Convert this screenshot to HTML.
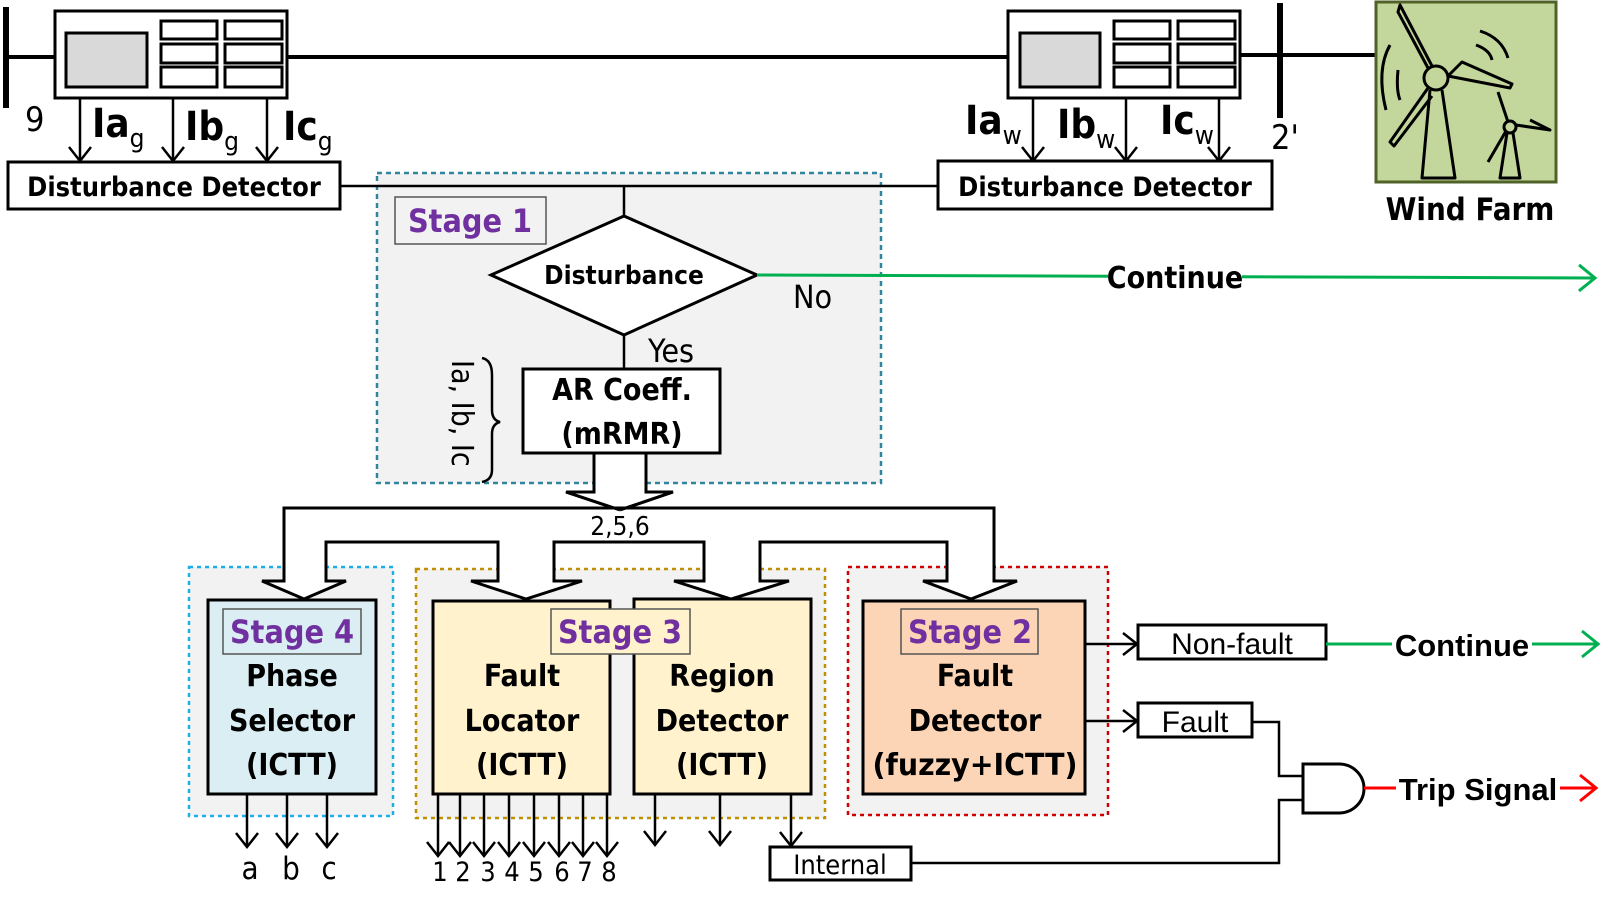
<!DOCTYPE html>
<html><head><meta charset="utf-8"><style>
html,body{margin:0;padding:0;background:#fff}
svg{display:block}
text{font-family:"Liberation Sans Narrow","DejaVu Sans Condensed","Liberation Sans",sans-serif}
.w{font-family:"Liberation Sans",sans-serif}
</style></head><body>
<svg width="1602" height="909" viewBox="0 0 1602 909" xmlns="http://www.w3.org/2000/svg">
<defs>
<marker id="ab" markerWidth="24" markerHeight="26" refX="17" refY="13" orient="auto" markerUnits="userSpaceOnUse"><path d="M3,2 L17,13 L3,24" fill="none" stroke="#000" stroke-width="2.5"/></marker>
<marker id="ag" markerWidth="24" markerHeight="30" refX="19" refY="15" orient="auto" markerUnits="userSpaceOnUse"><path d="M3,2 L19,15 L3,28" fill="none" stroke="#00B050" stroke-width="3"/></marker>
<marker id="ar" markerWidth="24" markerHeight="30" refX="19" refY="15" orient="auto" markerUnits="userSpaceOnUse"><path d="M3,2 L19,15 L3,28" fill="none" stroke="#FF0000" stroke-width="3"/></marker>
</defs>

<line x1="6" y1="57" x2="1008" y2="57" stroke="#000" stroke-width="4"/>
<line x1="1240" y1="55" x2="1376" y2="55" stroke="#000" stroke-width="4"/>
<line x1="6" y1="7" x2="6" y2="108" stroke="#000" stroke-width="6"/>
<line x1="1280" y1="3" x2="1280" y2="118" stroke="#000" stroke-width="6"/>

<rect x="55" y="11" width="232" height="87" fill="#fff" stroke="#000" stroke-width="3"/>
<rect x="66" y="33" width="81" height="54" fill="#D9D9D9" stroke="#000" stroke-width="3"/>
<g fill="#fff" stroke="#000" stroke-width="3">
<rect x="161" y="21" width="56" height="18"/><rect x="225" y="21" width="57" height="18"/>
<rect x="161" y="44" width="56" height="19"/><rect x="225" y="44" width="57" height="19"/>
<rect x="161" y="67" width="56" height="20"/><rect x="225" y="67" width="57" height="20"/>
</g>
<rect x="1008" y="11" width="232" height="87" fill="#fff" stroke="#000" stroke-width="3"/>
<rect x="1020" y="33" width="80" height="54" fill="#D9D9D9" stroke="#000" stroke-width="3"/>
<g fill="#fff" stroke="#000" stroke-width="3">
<rect x="1114" y="21" width="56" height="18"/><rect x="1178" y="21" width="57" height="18"/>
<rect x="1114" y="44" width="56" height="19"/><rect x="1178" y="44" width="57" height="19"/>
<rect x="1114" y="67" width="56" height="20"/><rect x="1178" y="67" width="57" height="20"/>
</g>

<g stroke="#000" stroke-width="2.5" marker-end="url(#ab)">
<line x1="80" y1="98" x2="80" y2="161"/><line x1="173" y1="98" x2="173" y2="161"/><line x1="267" y1="98" x2="267" y2="161"/>
<line x1="1033" y1="98" x2="1033" y2="161"/><line x1="1126" y1="98" x2="1126" y2="161"/><line x1="1219" y1="98" x2="1219" y2="161"/>
</g>
<text x="25" y="131" font-size="34">9</text>
<text x="1271" y="149" font-size="34">2'</text>
<g font-weight="bold" font-size="40">
<text x="92" y="137">Ia<tspan font-size="26" font-weight="normal" dy="10">g</tspan></text>
<text x="185" y="140">Ib<tspan font-size="26" font-weight="normal" dy="10">g</tspan></text>
<text x="283" y="140">Ic<tspan font-size="26" font-weight="normal" dy="10">g</tspan></text>
<text x="965" y="134">Ia<tspan font-size="26" font-weight="normal" dy="10">w</tspan></text>
<text x="1057" y="138">Ib<tspan font-size="26" font-weight="normal" dy="10">w</tspan></text>
<text x="1160" y="134">Ic<tspan font-size="26" font-weight="normal" dy="10">w</tspan></text>
</g>

<rect x="377" y="173" width="504" height="310" fill="#F2F2F2" stroke="#31849B" stroke-width="2.5" stroke-dasharray="5,4"/>
<line x1="340" y1="186" x2="938" y2="186" stroke="#000" stroke-width="2.5"/>
<line x1="624" y1="186" x2="624" y2="216" stroke="#000" stroke-width="2.5"/>

<rect x="8" y="162" width="332" height="47" fill="#fff" stroke="#000" stroke-width="3"/>
<text x="174" y="196" font-size="27" font-weight="bold" text-anchor="middle">Disturbance Detector</text>
<rect x="938" y="161" width="334" height="48" fill="#fff" stroke="#000" stroke-width="3"/>
<text x="1105" y="196" font-size="27" font-weight="bold" text-anchor="middle">Disturbance Detector</text>

<rect x="395" y="197" width="151" height="47" fill="#F2F2F2" stroke="#555" stroke-width="1.5"/>
<text x="470" y="232" font-size="32" font-weight="bold" fill="#7030A0" text-anchor="middle">Stage 1</text>

<polygon points="624,216 757,275 624,335 491,275" fill="#fff" stroke="#000" stroke-width="3"/>
<text x="624" y="284" font-size="26" font-weight="bold" text-anchor="middle">Disturbance</text>
<line x1="757" y1="275" x2="1595" y2="278" stroke="#00B050" stroke-width="3" marker-end="url(#ag)"/>
<rect x="1108" y="258" width="134" height="36" fill="#fff"/>
<text x="1175" y="288" font-size="30" font-weight="bold" text-anchor="middle">Continue</text>
<text x="793" y="308" font-size="32">No</text>
<line x1="624" y1="335" x2="624" y2="369" stroke="#000" stroke-width="2.5"/>
<text x="648" y="362" font-size="32">Yes</text>

<rect x="523" y="369" width="197" height="84" fill="#fff" stroke="#000" stroke-width="3"/>
<text x="622" y="400" font-size="30" font-weight="bold" text-anchor="middle">AR Coeff.</text>
<text x="622" y="444" font-size="30" font-weight="bold" text-anchor="middle">(mRMR)</text>
<path d="M482,358 Q492,360 492,375 L492,410 Q492,420 500,422 Q492,424 492,434 L492,470 Q492,480 482,482" fill="none" stroke="#000" stroke-width="2.5"/>
<text transform="translate(452,360) rotate(90)" font-size="30">Ia, Ib, Ic</text>

<rect x="189" y="567" width="204" height="249" fill="#F2F2F2" stroke="#1CB0E8" stroke-width="2.5" stroke-dasharray="4,4"/>
<rect x="416" y="569" width="409" height="249" fill="#F2F2F2" stroke="#C09000" stroke-width="2.5" stroke-dasharray="4,4"/>
<rect x="848" y="567" width="260" height="248" fill="#F2F2F2" stroke="#D00000" stroke-width="2.5" stroke-dasharray="4,4"/>

<polygon points="594,453 594,492 566,492 620,510 673,492 646,492 646,453" fill="#fff" stroke="#000" stroke-width="3"/>
<path d="M284,581 L284,508 L994,508 L994,581 L1017,581 L971,599 L923,581 L947,581 L947,542 L760,542 L760,581 L789,581 L731,599 L674,581 L704,581 L704,542 L554,542 L554,581 L582,581 L526,599 L471,581 L498,581 L498,542 L326,542 L326,581 L346,581 L304,599 L262,581 Z" fill="#fff" stroke="#000" stroke-width="3"/>
<polygon points="596,495 644,495 620,505" fill="#fff"/>
<line x1="566" y1="492" x2="620" y2="510" stroke="#000" stroke-width="3"/>
<line x1="673" y1="492" x2="620" y2="510" stroke="#000" stroke-width="3"/>
<text x="620" y="535" font-size="26" text-anchor="middle">2,5,6</text>

<rect x="208" y="600" width="168" height="194" fill="#DAEEF3" stroke="#000" stroke-width="3"/>
<rect x="223" y="609" width="138" height="45" fill="#DAEEF3" stroke="#555" stroke-width="1.5"/>
<text x="292" y="643" font-size="32" font-weight="bold" fill="#7030A0" text-anchor="middle">Stage 4</text>
<g font-size="30" font-weight="bold" text-anchor="middle">
<text x="292" y="686">Phase</text><text x="292" y="731">Selector</text><text x="292" y="775">(ICTT)</text>
</g>
<rect x="433" y="601" width="177" height="193" fill="#FFF2CC" stroke="#000" stroke-width="3"/>
<rect x="634" y="599" width="177" height="195" fill="#FFF2CC" stroke="#000" stroke-width="3"/>
<rect x="551" y="609" width="139" height="45" fill="#FFF2CC" stroke="#555" stroke-width="1.5"/>
<text x="620" y="643" font-size="32" font-weight="bold" fill="#7030A0" text-anchor="middle">Stage 3</text>
<g font-size="30" font-weight="bold" text-anchor="middle">
<text x="522" y="686">Fault</text><text x="522" y="731">Locator</text><text x="522" y="775">(ICTT)</text>
<text x="722" y="686">Region</text><text x="722" y="731">Detector</text><text x="722" y="775">(ICTT)</text>
</g>
<rect x="863" y="601" width="222" height="193" fill="#FBD5B5" stroke="#000" stroke-width="3"/>
<rect x="901" y="609" width="137" height="45" fill="#FBD5B5" stroke="#555" stroke-width="1.5"/>
<text x="970" y="643" font-size="32" font-weight="bold" fill="#7030A0" text-anchor="middle">Stage 2</text>
<g font-size="30" font-weight="bold" text-anchor="middle">
<text x="975" y="686">Fault</text><text x="975" y="731">Detector</text><text x="975" y="775" textLength="205" lengthAdjust="spacingAndGlyphs">(fuzzy+ICTT)</text>
</g>

<g stroke="#000" stroke-width="2.5" marker-end="url(#ab)">
<line x1="247" y1="794" x2="247" y2="847"/><line x1="287" y1="794" x2="287" y2="847"/><line x1="327" y1="794" x2="327" y2="847"/>
<line x1="438" y1="794" x2="438" y2="856"/><line x1="460" y1="794" x2="460" y2="856"/><line x1="484" y1="794" x2="484" y2="856"/><line x1="509" y1="794" x2="509" y2="856"/>
<line x1="534" y1="794" x2="534" y2="856"/><line x1="559" y1="794" x2="559" y2="856"/><line x1="583" y1="794" x2="583" y2="856"/><line x1="607" y1="794" x2="607" y2="856"/>
<line x1="655" y1="794" x2="655" y2="845"/><line x1="720" y1="794" x2="720" y2="845"/><line x1="791" y1="794" x2="791" y2="846"/>
<line x1="1085" y1="644" x2="1137" y2="644"/><line x1="1085" y1="721" x2="1137" y2="721"/>
</g>
<g font-size="31" text-anchor="middle"><text x="250" y="879">a</text><text x="291" y="879">b</text><text x="329" y="879">c</text></g>
<g font-size="27" text-anchor="middle">
<text x="440" y="881">1</text><text x="463" y="881">2</text><text x="488" y="881">3</text><text x="512" y="881">4</text>
<text x="536" y="881">5</text><text x="562" y="881">6</text><text x="585" y="881">7</text><text x="609" y="881">8</text>
</g>
<rect x="770" y="847" width="141" height="33" fill="#fff" stroke="#000" stroke-width="3"/>
<text x="840" y="874" font-size="27" text-anchor="middle">Internal</text>

<rect x="1138" y="625" width="188" height="34" fill="#fff" stroke="#000" stroke-width="3"/>
<text x="1232" y="654" font-size="30" class="w" text-anchor="middle">Non-fault</text>
<rect x="1138" y="703" width="114" height="34" fill="#fff" stroke="#000" stroke-width="3"/>
<text x="1195" y="732" font-size="30" class="w" text-anchor="middle">Fault</text>
<line x1="1326" y1="644" x2="1598" y2="644" stroke="#00B050" stroke-width="3" marker-end="url(#ag)"/>
<rect x="1392" y="626" width="140" height="36" fill="#fff"/>
<text x="1462" y="656" font-size="31" font-weight="bold" class="w" text-anchor="middle">Continue</text>
<path d="M1252,722 L1279,722 L1279,776 L1303,776" fill="none" stroke="#000" stroke-width="2.5"/>
<path d="M911,863 L1279,863 L1279,800 L1303,800" fill="none" stroke="#000" stroke-width="2.5"/>
<path d="M1303,764 L1339,764 A25,24.5 0 0 1 1339,813 L1303,813 Z" fill="#fff" stroke="#000" stroke-width="3"/>
<line x1="1364" y1="788" x2="1596" y2="788" stroke="#FF0000" stroke-width="3" marker-end="url(#ar)"/>
<rect x="1396" y="768" width="164" height="40" fill="#fff"/>
<text x="1478" y="800" font-size="31" font-weight="bold" class="w" text-anchor="middle">Trip Signal</text>

<rect x="1376" y="2" width="180" height="180" fill="#C3D69B" stroke="#4F6228" stroke-width="3"/>
<g fill="none" stroke="#000" stroke-width="3" stroke-linejoin="round">
<circle cx="1436" cy="78" r="12"/>
<path d="M1430,90 L1422,178 L1455,178 L1442,90"/>
<path d="M1432,66 L1400,5 L1398,12 L1428,68"/>
<path d="M1448,76 L1510,88 L1512,84 L1462,62 Z"/>
<path d="M1428,88 L1390,142 L1394,146 L1432,96"/>
<path d="M1480,31 Q1502,38 1508,58"/><path d="M1476,45 Q1490,50 1492,60"/>
<path d="M1390,45 Q1376,70 1386,110"/><path d="M1398,70 Q1396,90 1400,100"/>
<circle cx="1510" cy="127" r="6"/>
<path d="M1507,133 L1500,178 L1520,178 L1513,133"/>
<path d="M1508,122 L1498,92"/><path d="M1516,125 L1550,130 L1530,120"/><path d="M1506,131 L1488,162"/>
</g>
<text x="1470" y="220" font-size="31" font-weight="bold" text-anchor="middle">Wind Farm</text>
</svg>
</body></html>
